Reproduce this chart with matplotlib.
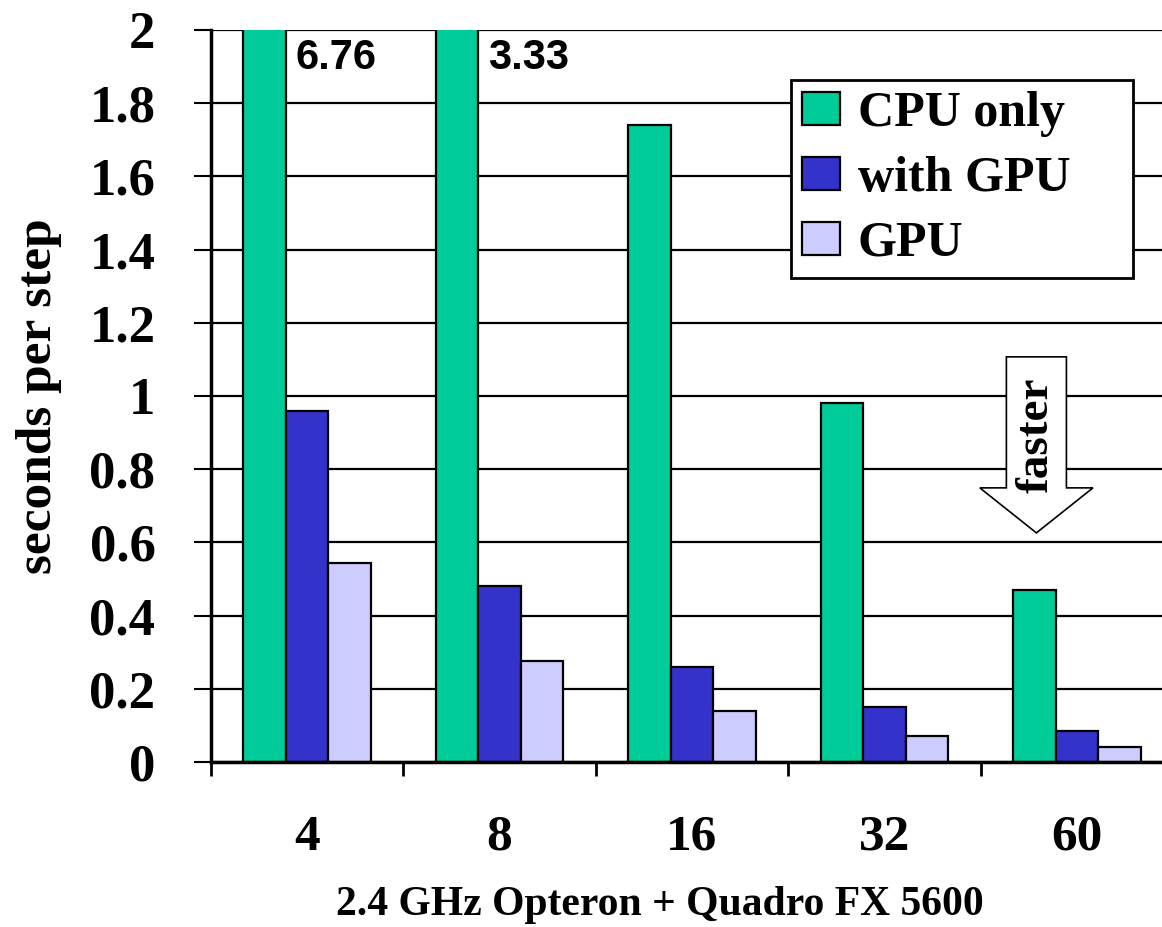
import matplotlib
matplotlib.use("Agg")
import matplotlib.pyplot as plt
import numpy as np
from matplotlib.patches import Polygon

# data
procs = ["4", "8", "16", "32", "60"]
cpu_only = [6.76, 3.33, 1.74, 0.98, 0.47]
with_gpu = [0.96, 0.48, 0.26, 0.15, 0.085]
gpu = [0.545, 0.275, 0.14, 0.07, 0.04]
off_scale = ["6.76", "3.33"]

plt.rcParams["font.family"] = "Liberation Serif"
plt.rcParams["font.weight"] = "bold"

fig = plt.figure(figsize=(11.62, 9.27), dpi=100)
ax = fig.add_axes([211/1162, 165/927, 962/1162, 732/927])

x = np.arange(len(procs))
w = 0.221
ax.bar(x - w, cpu_only, w, color="#00CC99", edgecolor="black", linewidth=1.6, label="CPU only")
ax.bar(x, with_gpu, w, color="#3333CC", edgecolor="black", linewidth=1.6, label="with GPU")
ax.bar(x + w, gpu, w, color="#CCCCFF", edgecolor="black", linewidth=1.6, label="GPU")

# values of the clipped bars
for i, s in enumerate(off_scale):
    ax.text(i - w/2 + 0.05, 1.923, s, fontsize=30, fontweight="bold",
            family="Liberation Sans", ha="left", va="center")

ax.set_xlim(-0.5, 4.5)
ax.set_ylim(0, 2)
ax.set_yticks(np.arange(0, 2.01, 0.2))
ax.set_yticklabels(["0", "0.2", "0.4", "0.6", "0.8", "1", "1.2", "1.4", "1.6", "1.8", "2"])
ax.yaxis.grid(True, color="black", linewidth=1.6)
ax.set_axisbelow(True)

ax.set_xticks(x)
ax.set_xticklabels(procs)
ax.set_xticks(np.arange(-0.5, 4.6, 1), minor=True)
ax.tick_params(axis="x", which="major", length=0, pad=38, labelsize=37)
ax.tick_params(axis="x", which="minor", length=10, width=2, direction="out")
ax.tick_params(axis="y", length=12, width=1.5, pad=28, labelsize=38)

for s in ["top", "right"]:
    ax.spines[s].set_visible(False)
ax.spines["left"].set_linewidth(2.5)
ax.spines["bottom"].set_linewidth(2.5)

ax.set_ylabel("seconds per step", fontsize=37, fontweight="bold", labelpad=20)
ax.set_xlabel("2.4 GHz Opteron + Quadro FX 5600", fontsize=30, fontweight="bold", labelpad=22)
ax.xaxis.set_label_coords((660 - 211) / 962, -0.17)

leg = ax.legend(loc="upper left", bbox_to_anchor=(791/1162, 1 - 279/927, 342/1162, 199/927),
                bbox_transform=fig.transFigure, mode="expand",
                fontsize=36, frameon=True, fancybox=False, edgecolor="black",
                handlelength=0.76, handleheight=0.64, handletextpad=0.36, borderpad=0.22,
                labelspacing=0.38, borderaxespad=0)
leg.get_frame().set_linewidth(2)
leg.get_frame().set_alpha(None)
leg.get_frame().set_facecolor("white")

# "faster" arrow
cx = 3.79
arrow = Polygon([[cx - 0.156, 1.107], [cx + 0.156, 1.107], [cx + 0.156, 0.749], [cx + 0.294, 0.749],
                 [cx, 0.626], [cx - 0.294, 0.749], [cx - 0.156, 0.749]],
                closed=True, facecolor="white", edgecolor="black", linewidth=1.2, zorder=3)
ax.add_patch(arrow)
ax.text(cx, 0.893, "faster", rotation=90, fontsize=34, fontweight="bold", ha="center", va="center", zorder=4)

fig.savefig("out.png", dpi=100)
